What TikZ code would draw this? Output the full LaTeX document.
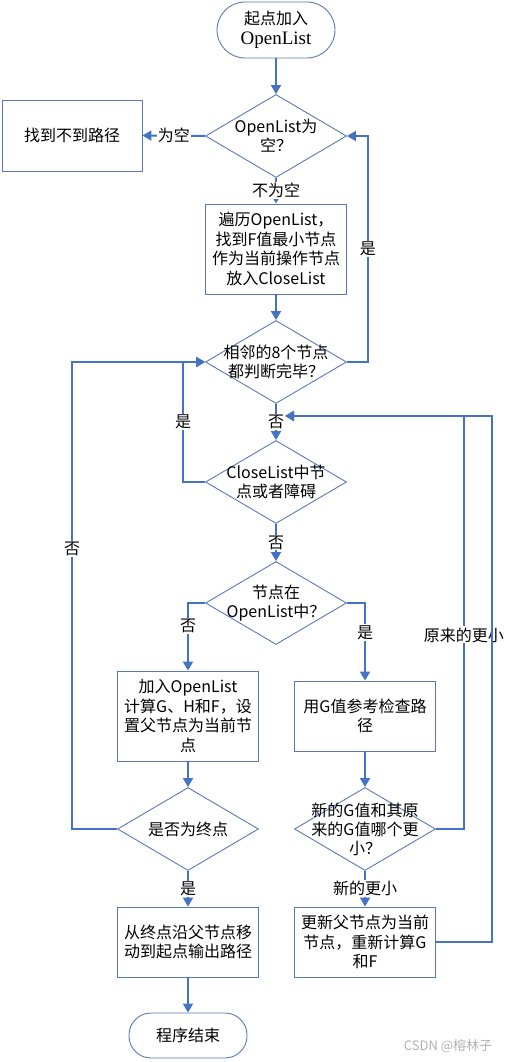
\documentclass[tikz,border=0pt]{standalone}
\usepackage{fontspec}
\newfontfamily\cjk{Noto Sans CJK SC}
\newfontfamily\tms{Liberation Serif}
\usepackage{tikz}
\usetikzlibrary{arrows.meta,shapes.geometric}
\definecolor{linkblue}{HTML}{4472C4}
\definecolor{edgeblue}{HTML}{5A78B8}

\begin{document}
\begin{tikzpicture}[x=1pt,y=-1pt,
  txt/.style={font=\cjk\fontsize{16}{19.5}\selectfont,align=center},
  box/.style={txt,draw=edgeblue,line width=0.9pt,minimum width=141pt,inner sep=0pt},
  term/.style={txt,draw=edgeblue,line width=0.9pt,minimum width=118pt,inner sep=0pt},
  dia/.style={diamond,draw=edgeblue,line width=0.9pt,aspect=1.7,minimum width=141pt,minimum height=83pt,inner sep=0pt},
  dtext/.style={txt,font=\cjk\fontsize{16}{19}\selectfont},
  conn/.style={draw=linkblue,line width=2pt,-{Triangle[width=10pt,length=9pt]}},
  lbl/.style={txt,fill=white,inner sep=1pt}]
  \useasboundingbox (0,0) rectangle (514,1062);
  % Start
  \node[term,minimum height=56pt,rounded corners=28pt] (start) at (276,30) {起点加入\\{\tms\fontsize{19}{23}\selectfont OpenList}};
  % Main loop
  \node[dia,label={[dtext]center:{OpenList为\\空？}}] (d1) at (276,136) {};
  \node[box,minimum width=140pt,minimum height=71pt] (nopath) at (72,135.5) {找到不到路径};
  \node[box,minimum height=90pt] (scan) at (276,249) {遍历OpenList，\\找到F值最小节点\\作为当前操作节点\\放入CloseList};
  \node[dia,label={[dtext]center:{相邻的8个节点\\都判断完毕？}}] (d2) at (276,362) {};
  \node[dia,label={[dtext]center:{CloseList中节\\点或者障碍}}] (d3) at (276,482) {};
  \node[dia,label={[dtext]center:{节点在\\OpenList中？}}] (d4) at (276,603) {};
  % Left branch
  \node[box,minimum height=90pt] (addopen) at (188,716) {加入OpenList\\计算G、H和F，设\\置父节点为当前节\\点};
  \node[dia,label={[dtext]center:{是否为终点}}] (isend) at (188,829) {};
  \node[box,minimum height=70pt] (route) at (188,942) {从终点沿父节点移\\动到起点输出路径};
  \node[term,minimum height=45pt,rounded corners=22pt] (finish) at (188,1035.5) {程序结束};
  % Right branch
  \node[box,minimum height=70pt] (gcheck) at (365,716) {用G值参考检查路\\径};
  \node[dia,label={[dtext]center:{新的G值和其原\\来的G值哪个更\\小？}}] (cmpg) at (365,829) {};
  \node[box,minimum height=70pt] (update) at (365,942) {更新父节点为当前\\节点，重新计算G\\和F};
  \coordinate (join) at (285,416);
  % Connectors
  \draw[conn] (start) -- (d1);
  \draw[conn] (d1.west) -- node[lbl] (lempty) {为空} (nopath.east);
  \draw[conn] (d1) -- node[lbl] (lnotempty) {不为空} (scan);
  \draw[conn] (scan) -- (d2);
  \draw[conn] (d2.east) -- ++(21,0) |- node[lbl,pos=0.25] (ldone) {是} (d1.east);
  \draw[conn] (d2) -- node[lbl] (lnotdone) {否} (d3);
  \draw[conn] (d3.west) -- ++(-22,0) |- node[lbl,pos=0.25] (lblocked) {是} (d2.west);
  \draw[conn] (d3) -- node[lbl] (lfree) {否} (d4);
  \draw[conn] (d4.west) -| node[lbl,pos=0.67] (lnotin) {否} (addopen);
  \draw[conn] (d4.east) -| node[lbl,pos=0.69] (lin) {是} (gcheck);
  \draw[conn] (addopen) -- (isend);
  \draw[conn] (isend.west) -- ++(-45,0) |- node[lbl,pos=0.3] (lnotend) {否} (d2.west);
  \draw[conn] (isend) -- node[lbl] (lend) {是} (route);
  \draw[conn] (route) -- (finish);
  \draw[conn] (gcheck) -- (cmpg);
  \draw[conn] (cmpg.east) -- ++(28,0) |- node[lbl,pos=0.235] (lold) {原来的更小} (join);
  \draw[conn] (cmpg) -- node[lbl] (lnew) {新的更小} (update);
  \draw[conn] (update.east) -- ++(56,0) |- (join);
  % Watermark
  \node[font=\cjk\fontsize{13}{15}\selectfont,text=gray!60] (mark) at (448,1046) {CSDN @榕林子};
\end{tikzpicture}
\end{document}
